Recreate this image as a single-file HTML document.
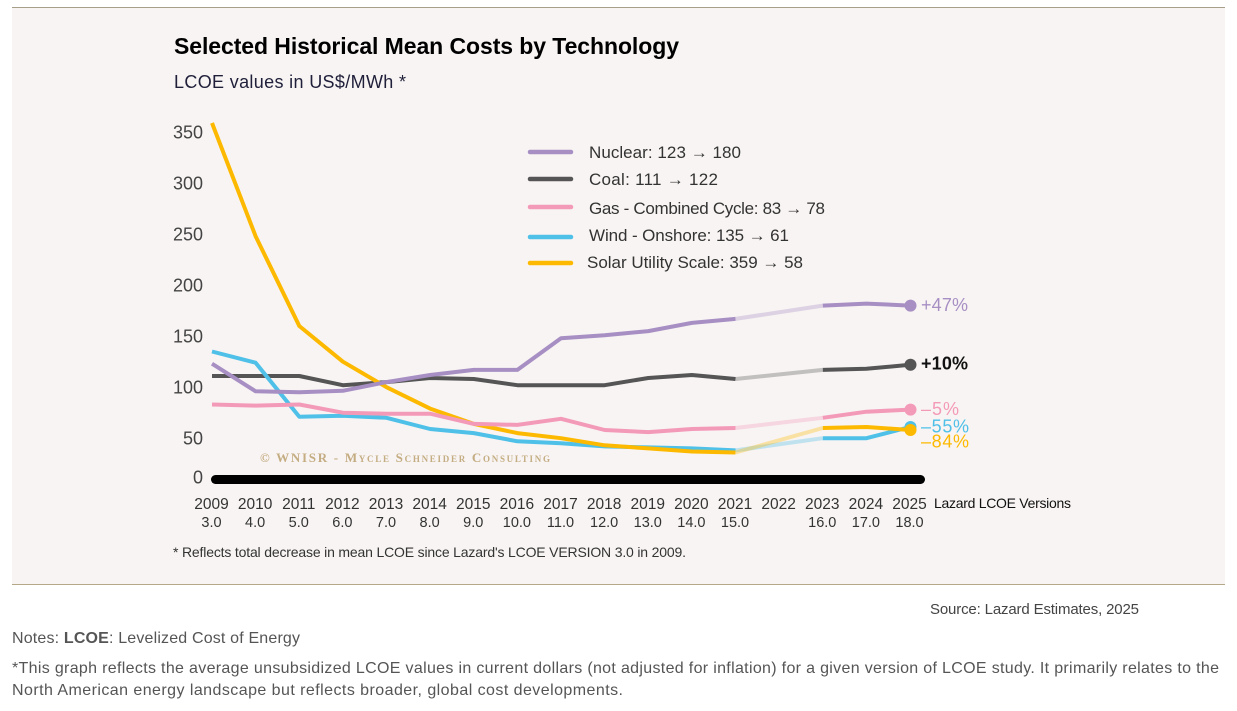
<!DOCTYPE html>
<html lang="en">
<head>
<meta charset="utf-8">
<title>Selected Historical Mean Costs by Technology</title>
<style>
html,body{margin:0;padding:0;background:#fff;width:1237px;height:711px;overflow:hidden}
svg{display:block;font-family:"Liberation Sans",sans-serif}
</style>
</head>
<body>
<svg id="chart" xmlns="http://www.w3.org/2000/svg" width="1237" height="711" viewBox="0 0 1237 711">
  <rect x="12" y="7" width="1213" height="577" fill="#f8f4f3"/>
  <line x1="12" x2="1225" y1="7.5" y2="7.5" stroke="#a89f8a" stroke-width="1"/>
  <line x1="12" x2="1225" y1="584.5" y2="584.5" stroke="#b5a888" stroke-width="1"/>
  <text x="174" y="54" font-size="23" font-weight="700" fill="#000" textLength="505">Selected Historical Mean Costs by Technology</text>
  <text x="174" y="88" font-size="18" fill="#1f1f3a" textLength="232">LCOE values in US$/MWh *</text>
  <text x="260" y="462" font-family="'Liberation Serif',serif" font-size="13" font-weight="700" fill="#c4ad82" style="font-variant:small-caps" textLength="290">© WNISR - Mycle Schneider Consulting</text>
  <g id="y-axis"></g>
  <g id="x-axis"></g>
  <g id="series"></g>
  <g id="legend"></g>
  <text x="934" y="508" font-size="14" fill="#111" textLength="137">Lazard LCOE Versions</text>
  <text x="173" y="557" font-size="14" fill="#333" textLength="513">* Reflects total decrease in mean LCOE since Lazard's  LCOE VERSION 3.0 in 2009.</text>
  <text x="930" y="614" font-size="15" fill="#444" textLength="209">Source: Lazard Estimates, 2025</text>
  <text x="12" y="643" font-size="16" fill="#555" textLength="288">Notes: <tspan font-weight="700">LCOE</tspan>: Levelized Cost of Energy</text>
  <text x="12" y="673" font-size="16" fill="#555" textLength="1207">*This graph reflects the average unsubsidized LCOE values in current dollars (not adjusted for inflation) for a given version of LCOE study. It primarily relates to the</text>
  <text x="12" y="695" font-size="16" fill="#555" textLength="611">North American energy landscape but reflects broader, global cost developments.</text>
</svg>
<script>
const years = [2009,2010,2011,2012,2013,2014,2015,2016,2017,2018,2019,2020,2021,2022,2023,2024,2025];
const versions = ["3.0","4.0","5.0","6.0","7.0","8.0","9.0","10.0","11.0","12.0","13.0","14.0","15.0","","16.0","17.0","18.0"];
const yTicks = [0,50,100,150,200,250,300,350];
const nuclear = [123,96,95,96.5,105,112,117,117,148,151,155,163,167,null,180,182,180];
const coal = [111,111,111,102,105,109,108,102,102,102,109,112,108,null,117,118,122];
const gas = [83,82,83,75,74,74,64,63,69,58,56,59,60,null,70,76,78];
const wind = [135,124,71,72,70,59,55,47,45,42,41,40,38,null,50,50,61];
const solar = [359,248,160,125,100,79,64,55,50,43,40,37,36,null,60,61,58];
const changes = {nuclear:"+47%", coal:"+10%", gas:"–5%", wind:"–55%", solar:"–84%"};

const seriesDefs = [
  {key:"coal", values:coal, color:"#555555", nudge:-2, labelW:47, labelFill:"#111111", bold:true},
  {key:"wind", values:wind, color:"#4fc0e8", nudge:-1, labelW:48, labelFill:"#4fc0e8"},
  {key:"solar", values:solar, color:"#fdb900", nudge:11, labelW:48, labelFill:"#fdb900"},
  {key:"gas", values:gas, color:"#f49ab9", nudge:-1, labelW:38, labelFill:"#f49ab9"},
  {key:"nuclear", values:nuclear, color:"#a78fc4", nudge:-1, labelW:47, labelFill:"#a78fc4"}
];
const legendDefs = [
  {name:"Nuclear", values:nuclear, color:"#a78fc4", lineY:152, textY:158, tx:589, w:152},
  {name:"Coal", values:coal, color:"#555555", lineY:179, textY:185, tx:589, w:129},
  {name:"Gas - Combined Cycle", values:gas, color:"#f49ab9", lineY:207, textY:214, tx:589, w:236},
  {name:"Wind - Onshore", values:wind, color:"#4fc0e8", lineY:237, textY:241, tx:589, w:200},
  {name:"Solar Utility Scale", values:solar, color:"#fdb900", lineY:263, textY:268, tx:587, w:216}
];

const NS = "http://www.w3.org/2000/svg";
const xLeft = 212, xRight = 910, zeroPx = 489.2, unitPx = 1.02, axisPx = 478;
const xScale = i => xLeft + i * (xRight - xLeft) / (years.length - 1);
const yScale = v => zeroPx - v * unitPx;

function make(tag, attrs, parent, txt) {
  const el = document.createElementNS(NS, tag);
  for (const k in attrs) el.setAttribute(k, attrs[k]);
  if (txt !== undefined) el.textContent = txt;
  parent.appendChild(el);
  return el;
}
function pathOf(idx, values) {
  return idx.map((i, n) => (n ? "L" : "M") + xScale(i).toFixed(1) + " " + yScale(values[i]).toFixed(1)).join(" ");
}

const yAxis = document.getElementById("y-axis");
yTicks.forEach(t => {
  const el = make("text", {x:203, y:Math.min(yScale(t), axisPx - 1) + 6.5, "font-size":18, fill:"#444", "text-anchor":"end"}, yAxis, String(t));
  
  
});

const xAxis = document.getElementById("x-axis");
const baseline = make("line", {x1:xLeft + 3.5, x2:xRight + 10.5, y1:axisPx + 1.5, y2:axisPx + 1.5, stroke:"#000", "stroke-width":9, "stroke-linecap":"round"}, xAxis);


years.forEach((yr, i) => {
  const a = make("text", {x:xScale(i) - 0.5, y:509, "font-size":15.5, fill:"#333", "text-anchor":"middle"}, xAxis, String(yr));
  
  
  if (versions[i]) {
    const b = make("text", {x:xScale(i) - 0.5, y:527, "font-size":14.5, fill:"#333", "text-anchor":"middle"}, xAxis, versions[i]);
    
    
  }
});

const seriesG = document.getElementById("series");
seriesDefs.forEach(s => {
  const present = s.values.map((v, i) => v === null ? -1 : i).filter(i => i >= 0);
  const gapPos = present.findIndex((i, n) => n > 0 && i - present[n - 1] > 1);
  const before = present.slice(0, gapPos), after = present.slice(gapPos);
  const lineStyle = {fill:"none", stroke:s.color, "stroke-width":4, "stroke-linejoin":"round"};

  const faded = make("path", Object.assign({d:pathOf([before[before.length - 1], after[0]], s.values), opacity:0.33}, lineStyle), seriesG);
  
  

  const early = make("path", Object.assign({d:pathOf(before, s.values)}, lineStyle), seriesG);
  
  

  const late = make("path", Object.assign({d:pathOf(after, s.values)}, lineStyle), seriesG);
  
  

  const lastI = present[present.length - 1];
  const dot = make("circle", {cx:xScale(lastI) + 0.5, cy:yScale(s.values[lastI]), r:6, fill:s.color}, seriesG);
  
  

  const lab = make("text", {x:921, y:yScale(s.values[lastI]) + s.nudge + 6.5, "font-size":18, fill:s.labelFill, "font-weight":s.bold ? 700 : 400, textLength:s.labelW}, seriesG, changes[s.key]);
  
  
});

const legendG = document.getElementById("legend");
legendDefs.forEach(l => {
  const slug = l.name.toLowerCase().replace(/[^a-z]+/g, "-");
  const sw = make("line", {x1:530, x2:571, y1:l.lineY, y2:l.lineY, stroke:l.color, "stroke-width":4.5, "stroke-linecap":"round"}, legendG);
  
  
  const first = l.values[0], last = l.values[l.values.length - 1];
  const t = make("text", {x:l.tx, y:l.textY, "font-size":17, fill:"#333", textLength:l.w}, legendG, l.name + ": " + first + " → " + last);
  
  
});
</script>
</body>
</html>
